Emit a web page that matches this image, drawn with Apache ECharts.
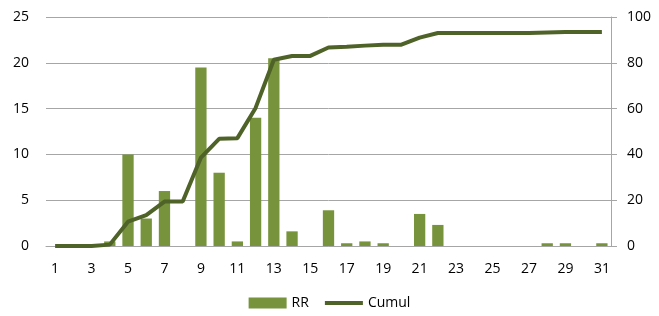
<!DOCTYPE html>
<html><head><meta charset="utf-8">
<script src="https://cdn.jsdelivr.net/npm/echarts@6/dist/echarts.min.js"></script>
<style>html,body{margin:0;padding:0;background:#fff}#c{width:659px;height:316px}</style>
</head><body><div id="c"></div>
<script>
const categories = ['1','2','3','4','5','6','7','8','9','10','11','12','13','14','15','16','17','18','19','20','21','22','23','24','25','26','27','28','29','30','31'];
const rrValues = [0,0,0,0.5,10,3,6,0,19.5,8,0.5,14,20.5,1.6,0,3.9,0.3,0.5,0.3,0,3.5,2.3,0,0,0,0,0,0.3,0.3,0,0.3];
const cumulValues = [0,0,0,0.6,10.6,13.5,19.4,19.4,38.6,46.8,47.1,60.3,81.3,83,83,86.7,87,87.5,87.9,87.9,91,93,93,93,93,93,93,93.2,93.4,93.4,93.5];
const leftTicks = {min:0,max:25,interval:5};
const rightTicks = {min:0,max:100,interval:20};

const font = '"Open Sans", "Noto Sans", sans-serif';
const chart = echarts.init(document.getElementById('c'));
chart.setOption({
  animation:false,
  grid:{left:46,right:48,top:17,bottom:70},
  legend:{
    bottom:1,left:'center',itemGap:14,itemWidth:38,itemHeight:11,
    textStyle:{fontFamily:font,fontSize:14,color:'#000'},
    data:[{name:'RR',icon:'rect'},{name:'Cumul',itemStyle:{opacity:0},lineStyle:{width:4,color:'#4f6228'}}]
  },
  xAxis:{
    type:'category',data:categories,boundaryGap:true,
    axisLine:{lineStyle:{color:'#a6a6a6',width:1}},
    axisTick:{show:false},
    axisLabel:{interval:1,margin:16,fontFamily:font,fontSize:14,color:'#000'}
  },
  yAxis:[{
    type:'value',min:leftTicks.min,max:leftTicks.max,interval:leftTicks.interval,
    axisLine:{show:false},axisTick:{show:false},
    splitLine:{lineStyle:{color:'#a6a6a6',width:1}},
    axisLabel:{margin:17,fontFamily:font,fontSize:14,color:'#000'}
  },{
    type:'value',min:rightTicks.min,max:rightTicks.max,interval:rightTicks.interval,
    position:'right',
    axisLine:{show:true,lineStyle:{color:'#a6a6a6',width:1}},
    axisTick:{show:true,length:6,lineStyle:{color:'#a6a6a6'}},
    splitLine:{show:false},
    axisLabel:{margin:16,fontFamily:font,fontSize:14,color:'#000'}
  }],
  series:[{
    name:'RR',type:'bar',data:rrValues,yAxisIndex:0,
    barCategoryGap:'38%',
    itemStyle:{color:'#77933c'}
  },{
    name:'Cumul',type:'line',data:cumulValues,yAxisIndex:1,
    symbol:'none',lineStyle:{color:'#4f6228',width:4},itemStyle:{color:'#4f6228'}
  }]
});
</script></body></html>
